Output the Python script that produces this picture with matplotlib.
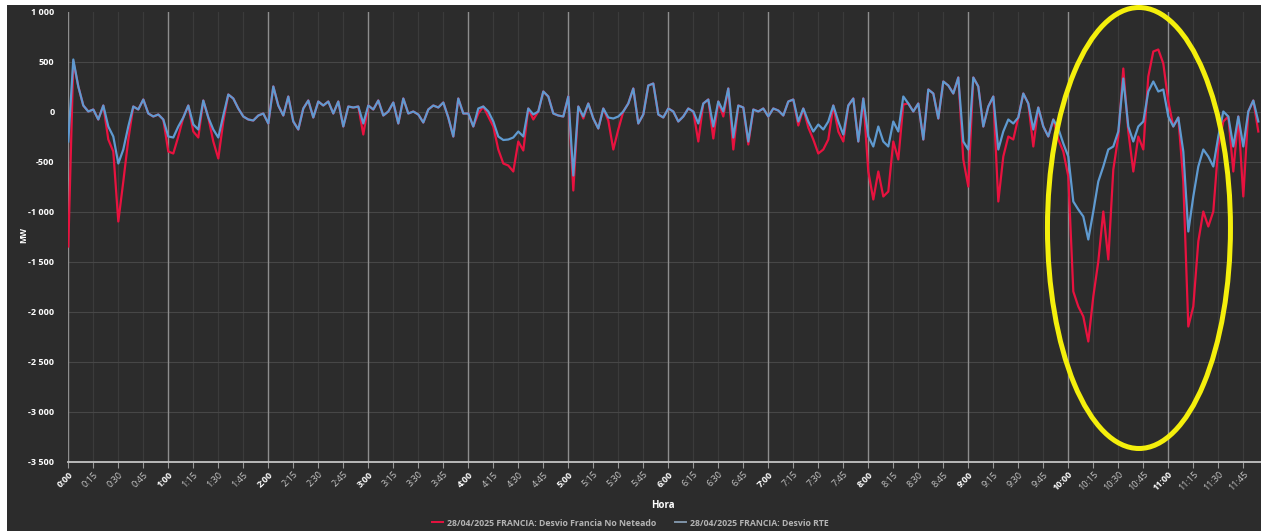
import numpy as np
import matplotlib
matplotlib.use('Agg')
import matplotlib.pyplot as plt
from matplotlib.patches import Ellipse, Rectangle
from matplotlib.lines import Line2D

plt.rcParams['font.family'] = ['Open Sans', 'DejaVu Sans']

# minutes since 0:00, one sample every 3 minutes
step = 3
rte = [
    -300, 520, 250, 60, 0, 20, -80, 60, -150, -250,
    -520, -380, -150, 50, 20, 120, -20, -50, -30, -80,
    -250, -260, -150, -60, 60, -130, -180, 110, -60, -180,
    -260, -40, 170, 130, 30, -50, -80, -90, -40, -20,
    -120, 250, 60, -40, 150, -100, -180, 30, 110, -60,
    100, 60, 100, -20, 100, -150, 50, 40, 50, -120,
    60, 20, 110, -40, 0, 90, -120, 130, -20, 0,
    -30, -110, 20, 60, 40, 90, -60, -250, 130, -20,
    -20, -150, 30, 50, 0, -100, -250, -285, -280, -260,
    -200, -250, 30, -30, 0, 200, 150, -20, -40, -50,
    150, -640, 50, -50, 80, -70, -170, 30, -60, -70,
    -50, 0, 80, 230, -120, -30, 260, 280, -30, -60,
    30, 0, -100, -50, 30, 0, -120, 80, 120, -150,
    100, 0, 230, -260, 60, 40, -300, 20, 0, 30,
    -50, 30, 10, -40, 100, 120, -100, 30, -100, -200,
    -130, -180, -100, 60, -100, -230, 60, 130, -300, 130,
    -250, -350, -150, -300, -350, -100, -200, 150, 80, 0,
    80, -280, 220, 180, -70, 300, 260, 180, 340, -300,
    -380, 340, 250, -150, 50, 150, -380, -200, -80, -120,
    -60, 180, 80, -180, 40, -150, -250, -80, -170, -320,
    -450, -900, -980, -1050, -1280, -1000, -700, -550, -380, -350,
    -200, 330, -150, -300, -150, -100, 200, 300, 200, 220,
    -50, -150, -60, -400, -1200, -850, -550, -380, -450, -550,
    -250, 0, -50, -350, -50, -350, 0, 110, -100,
]
no_neteado = [
    -1350, 500, 250, 60, 0, 20, -80, 60, -280, -400,
    -1100, -700, -280, 50, 20, 120, -20, -50, -30, -80,
    -400, -420, -250, -60, 60, -200, -260, 110, -60, -300,
    -470, -100, 170, 130, 30, -50, -80, -90, -40, -20,
    -120, 250, 60, -40, 150, -100, -180, 30, 110, -60,
    100, 60, 100, -20, 100, -150, 50, 40, 50, -230,
    60, 20, 110, -40, 0, 90, -120, 130, -20, 0,
    -30, -110, 20, 60, 40, 90, -60, -250, 130, -20,
    -20, -150, -20, 50, -50, -150, -380, -520, -540, -600,
    -300, -390, 30, -80, 0, 200, 150, -20, -40, -50,
    150, -790, 50, -70, 80, -70, -170, 30, -90, -380,
    -180, 0, 80, 230, -120, -30, 260, 280, -30, -60,
    30, 0, -100, -50, 30, 0, -300, 80, 120, -270,
    100, -50, 230, -380, 60, 40, -330, 20, 0, 30,
    -50, 30, 10, -40, 100, 120, -140, 30, -160, -280,
    -420, -380, -280, 60, -200, -300, 60, 130, -300, 130,
    -600, -880, -600, -850, -800, -300, -480, 70, 80, 0,
    80, -280, 220, 180, -70, 300, 260, 180, 340, -480,
    -750, 340, 250, -150, 50, 150, -900, -450, -250, -280,
    -60, 180, 80, -350, 40, -150, -250, -80, -280, -400,
    -650, -1800, -1950, -2050, -2300, -1850, -1500, -1000, -1480, -580,
    -250, 430, -200, -600, -250, -380, 350, 600, 620, 480,
    100, -150, -60, -700, -2150, -1950, -1300, -1000, -1150, -1000,
    -350, -100, -50, -600, -50, -850, 0, 110, -200,
]
minutes = np.arange(len(rte)) * step

tick_minutes = list(range(0, 720, 15))
tick_labels = ['%d:%02d' % (m // 60, m % 60) for m in tick_minutes]
y_ticks = [1000, 500, 0, -500, -1000, -1500, -2000, -2500, -3000, -3500]
y_labels = ['1 000', '500', '0', '-500', '-1 000', '-1 500', '-2 000', '-2 500', '-3 000', '-3 500']

label_red = '28/04/2025 FRANCIA: Desvio Francia No Neteado'
label_blue = '28/04/2025 FRANCIA: Desvio RTE'

bg = '#2c2c2c'
red = '#e8123f'
blue = '#5f9ad0'

W, H = 1261, 531
fig = plt.figure(figsize=(W / 100, H / 100), dpi=100, facecolor='white')
fig.patches.append(Rectangle((7 / W, 0), 1, (H - 5) / H, transform=fig.transFigure,
                             facecolor=bg, edgecolor='none', zorder=-10))

x0, x1 = 68.3, W
ytop, ybot = 11.5, 461.5
ax = fig.add_axes([x0 / W, (H - ybot) / H, (x1 - x0) / W, (ybot - ytop) / H])
ax.set_facecolor(bg)
ax.set_xlim(0, (x1 - x0) * 0.6)
ax.set_ylim(-3500, 1000)

# grid: hours strong, quarters faint, horizontal every 500 MW
for m in tick_minutes:
    if m % 60 == 0:
        ax.axvline(m, color='#8e8e8e', lw=1.0, zorder=1)
    else:
        ax.axvline(m, color='#3b3b3b', lw=0.9, zorder=0.5)
for v in y_ticks[1:]:
    ax.axhline(v, color='#474747', lw=0.8, zorder=0.5)

ax.plot(minutes, no_neteado, color=red, lw=1.6, zorder=3)
ax.plot(minutes, rte, color=blue, lw=1.6, zorder=4)

for s in ['top', 'right', 'left']:
    ax.spines[s].set_visible(False)
ax.spines['bottom'].set_color('#c4c4c4')
ax.spines['bottom'].set_linewidth(1.3)
ax.spines['bottom'].set_zorder(5)

ax.set_xticks(tick_minutes)
ax.set_xticklabels(tick_labels, rotation=45, ha='right', va='top', rotation_mode='anchor')
ax.tick_params(axis='x', length=4, width=0.8, color='#9a9a9a', pad=2, labelsize=6.5)
for lab, m in zip(ax.get_xticklabels(), tick_minutes):
    if m % 60 == 0:
        lab.set_color('white')
        lab.set_fontweight('bold')
    else:
        lab.set_color('#c8c8c8')

ax.set_yticks(y_ticks)
ax.set_yticklabels(y_labels)
ax.tick_params(axis='y', length=0, pad=10, labelsize=6.5, labelcolor='white')
for lab in ax.get_yticklabels():
    lab.set_fontweight('bold')

ax.set_ylabel('MW', color='white', fontsize=6, fontweight='bold')
ax.yaxis.set_label_coords(-0.0338, 0.503)
ax.set_xlabel('Hora', color='white', fontsize=7, fontweight='bold')
ax.xaxis.set_label_coords(0.4986, -0.086)

# highlight around the 10:00-11:30 deviation
ax.add_patch(Ellipse((642.4, -1165), 109.8, 4410, fill=False, edgecolor='#f4ef0c',
                     lw=3.6, zorder=6, clip_on=False))

handles = [Line2D([], [], color=red, lw=1.4), Line2D([], [], color='#7f93a8', lw=1.4)]
leg = fig.legend(handles, [label_red, label_blue], loc='center', ncol=2,
                 bbox_to_anchor=(0.5, 8 / H), frameon=False, handlelength=1.2,
                 handletextpad=0.5, columnspacing=2.2,
                 prop={'size': 6.3, 'weight': 'bold'})
for t in leg.get_texts():
    t.set_color('#b4b4b4')

fig.savefig('out.png', dpi=100, facecolor=fig.get_facecolor())
